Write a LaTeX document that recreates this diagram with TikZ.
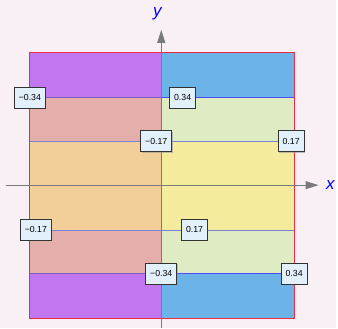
\documentclass[tikz,border=0pt]{standalone}
\usepackage{fontspec}
\setmainfont{Liberation Sans}
\usetikzlibrary{arrows.meta}
\usetikzlibrary{shadows}
\definecolor{mbg}{HTML}{F8F0F4}
\definecolor{mpurple}{HTML}{C177EF}
\definecolor{mblue}{HTML}{6CB4E8}
\definecolor{mpink}{HTML}{E4AFAB}
\definecolor{mlgreen}{HTML}{DFEBC3}
\definecolor{morange}{HTML}{F2CF98}
\definecolor{myellow}{HTML}{F5EB9D}
\definecolor{mtag}{HTML}{E2F0FC}
\definecolor{mline}{HTML}{7A82D6}
\definecolor{mred}{HTML}{EE2B40}
\definecolor{maxis}{HTML}{7A7A7A}
\tikzset{tag/.style = {draw=black!80, fill=mtag, line width=0.9,
                       font=\fontsize{8.8}{9}\selectfont, inner xsep=4.5,
                       minimum height=21,
                       drop shadow={shadow xshift=0.8pt, shadow yshift=-0.8pt,
                                    fill=black!40, opacity=0.6}}}
\tikzset{axis/.style = {maxis, line width=0.9, -{Triangle[length=13pt, width=8pt]}}}
\tikzset{axlabel/.style = {blue, font=\fontsize{17}{18}\selectfont\itshape}}

\begin{document}
\begin{tikzpicture}[x=1pt, y=-1pt]
      \fill [mbg] (0, 0) rectangle (338, 330);

      % bands
      \fill [mpurple] (30, 53) rectangle (162, 98);
      \fill [mblue] (162, 53) rectangle (296, 98);
      \fill [mpink] (30, 98) rectangle (162, 142);
      \fill [mlgreen] (162, 98) rectangle (296, 142);
      \fill [morange] (30, 142) rectangle (162, 231);
      \fill [myellow] (162, 142) rectangle (296, 231);
      \fill [mpink] (30, 231) rectangle (162, 275);
      \fill [mlgreen] (162, 231) rectangle (296, 275);
      \fill [mpurple] (30, 275) rectangle (162, 320);
      \fill [mblue] (162, 275) rectangle (296, 320);

      % contour lines
      \draw [line width=1, mline!70!violet] (30, 98) -- (162, 98);
      \draw [line width=1, blue!70!white] (162, 98) -- (296, 98);
      \draw [line width=0.7, mline] (30, 142) -- (296, 142);
      \draw [line width=0.7, mline] (30, 231) -- (296, 231);
      \draw [line width=0.7, mline!70!violet] (30, 275) -- (162, 275);
      \draw [line width=1, blue!70!white] (162, 275) -- (296, 275);

      \draw [mred, line width=0.9] (30, 53) rectangle (296, 320);

      % axes
      \coordinate (xs) at (6, 186);
      \coordinate (xe) at (320, 186);
      \coordinate (ys) at (162, 330);
      \coordinate (ye) at (162, 30);
      \draw [axis] (xs) -- (xe);
      \draw [axis] (ys) -- (ye);
      \node [axlabel] (xl) at (332, 186) {x};
      \node [axlabel] (yl) at (158, 14) {y};

      % labels
      \node [tag] (a1) at (30, 98) {−0.34};
      \node [tag] (a2) at (183.5, 98) {0.34};
      \node [tag] (b1) at (157, 142) {−0.17};
      \node [tag] (b2) at (292.5, 142) {0.17};
      \node [tag] (c1) at (36, 231) {−0.17};
      \node [tag] (c2) at (195.5, 231) {0.17};
      \node [tag] (d1) at (162, 275) {−0.34};
      \node [tag] (d2) at (295.5, 275) {0.34};
    \end{tikzpicture}
\end{document}
